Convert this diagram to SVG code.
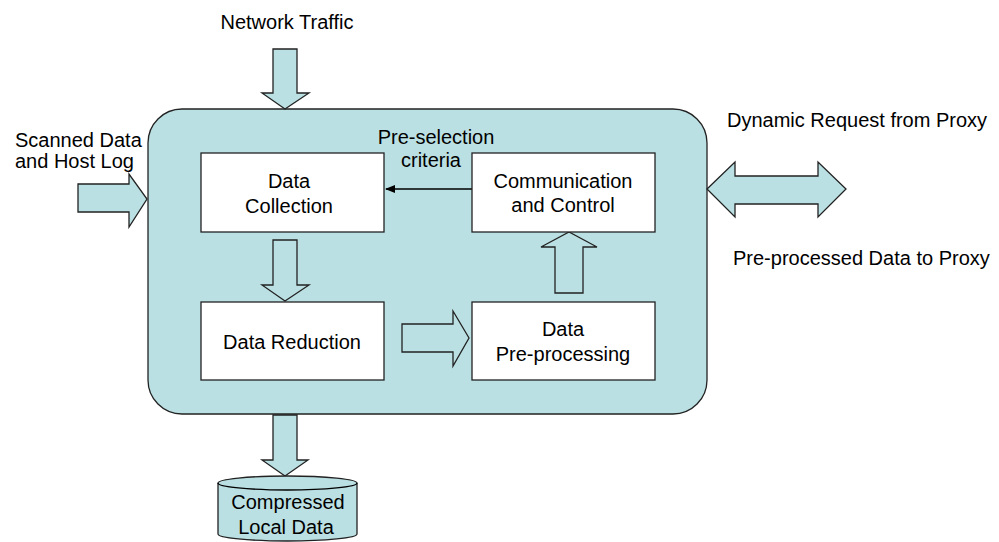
<svg xmlns="http://www.w3.org/2000/svg" width="999" height="542" viewBox="0 0 999 542">
<defs>
<style>
text{font-family:"Liberation Sans",Arial,sans-serif;font-size:20px;fill:#000}
.c{text-anchor:middle}
.bl{fill:#BBE0E3;stroke:#222;stroke-width:1.3}
.box{fill:#fff;stroke:#222;stroke-width:1.3}
.ln{stroke:#000;stroke-width:1.3;fill:none}
</style>
<marker id="ah" markerWidth="10" markerHeight="8" refX="9" refY="4" orient="auto" markerUnits="userSpaceOnUse">
<path d="M0,0 L10,4 L0,8 Z" fill="#000"/>
</marker>
</defs>
<rect width="999" height="542" fill="#fff"/>

<g id="main">
<rect class="bl" x="148" y="109" width="559" height="305" rx="34" ry="34"/>
</g>

<g id="connectors">
<path class="bl" d="M273,49 L297,49 L297,93 L309,93 L285,109 L262,93 L273,93 Z"/>
<path class="bl" d="M78,184 L129,184 L129,174 L147,199 L129,227 L129,212 L78,212 Z"/>
<path class="bl" d="M707,189 L735,162 L735,176 L818,176 L818,162 L846,189 L818,217 L818,204 L735,204 L735,217 Z"/>
<path class="bl" d="M273,240 L297,240 L297,285 L309,285 L285,301 L262,285 L273,285 Z"/>
<path class="bl" d="M402,324 L453,324 L453,311 L469,338 L453,366 L453,352 L402,352 Z"/>
<path class="bl" d="M555,293 L555,247 L541,247 L569,232 L597,247 L583,247 L583,293 Z"/>
<path class="bl" d="M273,415 L297,415 L297,460 L308,460 L285,476 L262,460 L273,460 Z"/>
<line class="ln" x1="472" y1="189" x2="386" y2="189" marker-end="url(#ah)"/>
</g>

<g id="network-traffic"><text class="c" x="287" y="29">Network Traffic</text></g>
<g id="scanned"><text x="15" y="147">Scanned Data</text><text x="15" y="168">and Host Log</text></g>
<g id="dynamic"><text x="727" y="127">Dynamic Request from Proxy</text></g>
<g id="preprocessed-label"><text x="733" y="265">Pre-processed Data to Proxy</text></g>
<g id="preselection"><text class="c" x="436" y="144">Pre-selection</text><text class="c" x="431" y="167">criteria</text></g>

<g id="data-collection">
<rect class="box" x="201" y="153" width="183" height="79"/>
<text class="c" x="289" y="188">Data</text>
<text class="c" x="289" y="213">Collection</text>
</g>
<g id="comm-control">
<rect class="box" x="472" y="153" width="183" height="79"/>
<text class="c" x="563" y="188">Communication</text>
<text class="c" x="563" y="212">and Control</text>
</g>
<g id="data-reduction">
<rect class="box" x="201" y="302" width="183" height="78"/>
<text class="c" x="292" y="349">Data Reduction</text>
</g>
<g id="data-preprocessing">
<rect class="box" x="472" y="302" width="183" height="78"/>
<text class="c" x="563" y="336">Data</text>
<text class="c" x="563" y="361">Pre-processing</text>
</g>
<g id="compressed">
<path class="bl" d="M218,483 L218,534 A69.5,7 0 0 0 357,534 L357,483 A69.5,7 0 0 0 218,483 Z"/>
<path class="ln" d="M218,483 A69.5,7 0 0 0 357,483"/>
<text class="c" x="288" y="509">Compressed</text>
<text class="c" x="286" y="534">Local Data</text>
</g>
</svg>
